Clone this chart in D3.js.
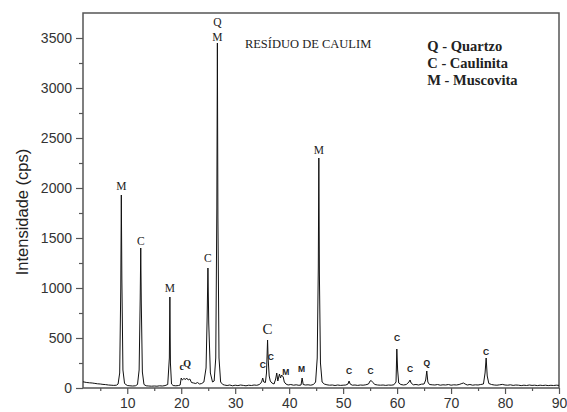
<!DOCTYPE html>
<html>
<head>
<meta charset="utf-8">
<script src="https://cdn.jsdelivr.net/npm/d3@7"></script>
<style>
  body { margin: 0; background: #fff; }
  svg { display: block; }
</style>
</head>
<body>
<div id="chart"></div>
<script>
// diffractogram: [2theta, cps]
const pattern = [
  [1.8, 62], [2.0, 60], [2.5, 55], [3.0, 52], [3.5, 50], [4.0, 46], [4.5, 42], [5.0, 40], [5.5, 36],
  [6.0, 34], [6.5, 30], [7.0, 28], [7.5, 26], [8.0, 28], [8.3, 40], [8.6, 150], [8.8, 1000],
  [8.9, 1930], [9.0, 1100], [9.2, 180], [9.5, 45], [10.0, 25], [10.5, 22], [11.0, 20], [11.5, 22],
  [11.9, 35], [12.2, 180], [12.4, 900], [12.5, 1400], [12.6, 850], [12.8, 160], [13.1, 35],
  [13.5, 22], [14.0, 20], [14.5, 18], [15.0, 20], [15.5, 18], [16.0, 22], [16.5, 20], [17.0, 24],
  [17.5, 35], [17.8, 300], [17.9, 910], [18.0, 250], [18.2, 40], [18.5, 25], [19.0, 22], [19.5, 25],
  [19.8, 30], [20.0, 100], [20.2, 80], [20.5, 95], [20.8, 85], [21.0, 100], [21.3, 80], [21.6, 90],
  [21.9, 55], [22.3, 50], [22.7, 45], [23.0, 55], [23.4, 40], [23.8, 45], [24.2, 60], [24.6, 200],
  [24.8, 700], [24.95, 1200], [25.1, 650], [25.4, 150], [25.8, 60], [26.1, 70], [26.4, 300],
  [26.6, 1800], [26.7, 3450], [26.8, 1700], [27.0, 300], [27.3, 60], [27.7, 35], [28.0, 30],
  [28.5, 25], [29.0, 30], [29.5, 22], [30.0, 28], [30.5, 24], [31.0, 30], [31.5, 26], [32.0, 22],
  [32.5, 28], [33.0, 25], [33.5, 30], [34.0, 27], [34.5, 35], [34.9, 60], [35.1, 100], [35.3, 60],
  [35.6, 55], [35.8, 150], [36.0, 480], [36.1, 300], [36.3, 120], [36.5, 70], [36.8, 50], [37.2, 40],
  [37.5, 90], [37.7, 150], [37.9, 70], [38.2, 140], [38.4, 100], [38.6, 130], [38.9, 110], [39.1, 60],
  [39.4, 40], [39.8, 30], [40.3, 35], [40.8, 28], [41.3, 32], [41.8, 27], [42.2, 30], [42.4, 100],
  [42.6, 35], [43.0, 30], [43.5, 32], [44.0, 28], [44.5, 35], [44.9, 60], [45.2, 300], [45.4, 1200],
  [45.5, 2300], [45.6, 1150], [45.8, 250], [46.1, 60], [46.5, 40], [47.0, 32], [47.5, 28], [48.0, 30],
  [48.5, 25], [49.0, 30], [49.5, 26], [50.0, 28], [50.5, 30], [50.9, 40], [51.1, 70], [51.3, 40],
  [51.7, 28], [52.2, 30], [52.7, 26], [53.2, 30], [53.7, 28], [54.2, 32], [54.7, 40], [55.0, 70],
  [55.2, 75], [55.5, 55], [55.9, 35], [56.4, 30], [56.9, 28], [57.4, 30], [57.9, 26], [58.4, 30],
  [58.9, 28], [59.4, 32], [59.8, 60], [59.95, 390], [60.1, 180], [60.3, 50], [60.7, 35], [61.2, 30],
  [61.7, 35], [62.2, 60], [62.4, 80], [62.6, 50], [63.0, 32], [63.5, 35], [64.0, 30], [64.5, 38],
  [65.0, 40], [65.3, 80], [65.5, 170], [65.7, 60], [66.0, 35], [66.5, 32], [67.0, 30], [67.5, 35],
  [68.0, 28], [68.5, 32], [69.0, 30], [69.5, 35], [70.0, 28], [70.5, 32], [71.0, 30], [71.5, 35],
  [72.0, 45], [72.3, 50], [72.6, 40], [73.0, 30], [73.5, 35], [74.0, 28], [74.5, 32], [75.0, 30],
  [75.5, 35], [76.0, 40], [76.3, 150], [76.5, 300], [76.7, 120], [77.0, 45], [77.5, 35], [78.0, 30],
  [78.5, 28], [79.0, 32], [79.5, 36], [80.0, 30], [80.5, 28], [81.0, 32], [81.5, 26], [82.0, 30],
  [82.5, 28], [83.0, 24], [83.5, 28], [84.0, 25], [84.5, 30], [85.0, 26], [85.5, 28], [86.0, 24],
  [86.5, 28], [87.0, 25], [87.5, 28], [88.0, 24], [88.5, 27], [89.0, 25], [89.5, 28], [90.0, 26]
];

// phase labels: text, 2theta, cps (baseline of text), style
const peakText  = ["M", "C", "M", "c", "Q", "C", "Q", "M", "C", "C", "C", "M", "M", "M", "C", "C", "C", "C", "Q", "C"];
const peakTheta = [8.9, 12.5, 17.9, 20.1, 21.1, 24.95, 26.7, 26.7, 35.1, 36.0, 36.6, 39.4, 42.3, 45.5, 51.1, 55.1, 60.0, 62.4, 65.5, 76.5];
const peakCps   = [1980, 1430, 960, 180, 210, 1260, 3620, 3470, 200, 540, 280, 130, 160, 2340, 140, 140, 470, 160, 220, 330];
const peakStyle = ["big", "big", "big", "smallq", "smallq", "big", "big", "big", "small", "huge", "small", "small", "small", "big", "small", "small", "small", "small", "small", "small"];

const legendLines = ["Q - Quartzo", "C - Caulinita", "M - Muscovita"];
const sampleTitle = "RESÍDUO DE CAULIM";

const xTicks = [10, 20, 30, 40, 50, 60, 70, 80, 90];
const xMinor = [5, 15, 25, 35, 45, 55, 65, 75, 85];
const yTicks = [0, 500, 1000, 1500, 2000, 2500, 3000, 3500];
const yMinor = [250, 750, 1250, 1750, 2250, 2750, 3250];

const width = 567, height = 412;
const margin = {top: 13, right: 8, bottom: 24, left: 83};

const svg = d3.select("#chart").append("svg")
  .attr("width", width)
  .attr("height", height);

const x = d3.scaleLinear().domain([1.8, 90]).range([margin.left, width - margin.right]);
const y = d3.scaleLinear().domain([0, 3750]).range([height - margin.bottom, margin.top]);

// axes
svg.append("g")
  .attr("transform", `translate(0,${height - margin.bottom})`)
  .call(d3.axisBottom(x).tickValues(xTicks).tickFormat(d3.format("d")).tickSize(6).tickPadding(4).tickSizeOuter(0));
svg.append("g")
  .attr("transform", `translate(0,${height - margin.bottom})`)
  .call(d3.axisBottom(x).tickValues(xMinor).tickSize(3).tickFormat("").tickSizeOuter(0));

svg.append("g")
  .attr("transform", `translate(${margin.left},0)`)
  .call(d3.axisLeft(y).tickValues(yTicks).tickFormat(d3.format("d")).tickSize(7).tickPadding(4).tickSizeOuter(0));
svg.append("g")
  .attr("transform", `translate(${margin.left},0)`)
  .call(d3.axisLeft(y).tickValues(yMinor).tickSize(4).tickFormat("").tickSizeOuter(0));

svg.selectAll(".domain").remove();
svg.selectAll(".tick line").attr("stroke", "#555").attr("stroke-width", 1.2);
svg.selectAll(".tick text")
  .attr("font-family", "Liberation Sans, Arial, sans-serif")
  .attr("font-size", 14)
  .attr("fill", "#333");

// frame
svg.append("rect")
  .attr("x", margin.left)
  .attr("y", margin.top)
  .attr("width", width - margin.left - margin.right)
  .attr("height", height - margin.top - margin.bottom)
  .attr("fill", "none")
  .attr("stroke", "#555")
  .attr("stroke-width", 1.5);

// pattern
const line = d3.line()
  .x(d => x(d[0]))
  .y(d => y(d[1]));

svg.append("path")
  .datum(pattern)
  .attr("d", line)
  .attr("fill", "none")
  .attr("stroke", "#111")
  .attr("stroke-width", 1);

// peak labels
const fontFor = {
  big:    {family: "Liberation Serif, Times New Roman, serif", size: 11.5, weight: "normal"},
  huge:   {family: "Liberation Serif, Times New Roman, serif", size: 15, weight: "normal"},
  small:  {family: "Liberation Sans, Arial, sans-serif", size: 8.5, weight: "bold"},
  smallq: {family: "Liberation Serif, Times New Roman, serif", size: 10, weight: "bold"}
};

svg.append("g").selectAll("text")
  .data(peakText)
  .join("text")
  .attr("x", (d, i) => x(peakTheta[i]))
  .attr("y", (d, i) => y(peakCps[i]))
  .attr("text-anchor", "middle")
  .attr("font-family", (d, i) => fontFor[peakStyle[i]].family)
  .attr("font-size", (d, i) => fontFor[peakStyle[i]].size)
  .attr("font-weight", (d, i) => fontFor[peakStyle[i]].weight)
  .attr("fill", "#222")
  .text(d => d);

// sample title
svg.append("text")
  .attr("x", x(31.8))
  .attr("y", y(3400))
  .attr("font-family", "Liberation Serif, Times New Roman, serif")
  .attr("font-size", 12.5)
  .attr("fill", "#222")
  .text(sampleTitle);

// legend
svg.append("g").selectAll("text")
  .data(legendLines)
  .join("text")
  .attr("x", x(65.6))
  .attr("y", (d, i) => y(3370) + i * 17)
  .attr("font-family", "Liberation Serif, Times New Roman, serif")
  .attr("font-size", 14.5)
  .attr("font-weight", "bold")
  .attr("fill", "#222")
  .text(d => d);

// y title
svg.append("text")
  .attr("transform", `translate(28,${y(1760)}) rotate(-90)`)
  .attr("text-anchor", "middle")
  .attr("font-family", "Liberation Sans, Arial, sans-serif")
  .attr("font-size", 16.5)
  .attr("fill", "#222")
  .text("Intensidade (cps)");
</script>
</body>
</html>
